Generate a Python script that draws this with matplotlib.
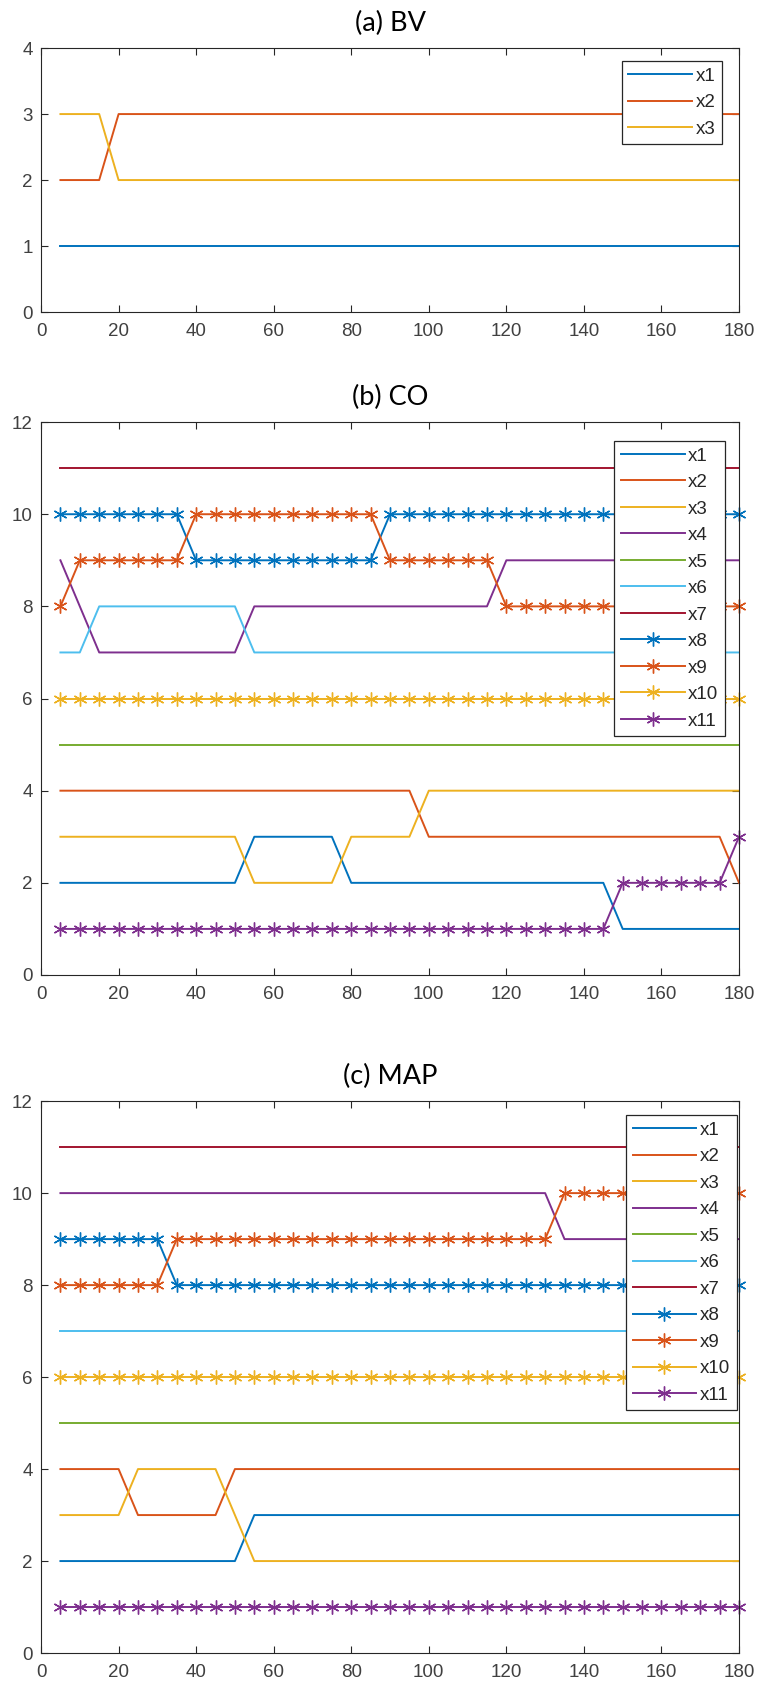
"""
Recreates the three-panel ranking plot (BV / CO / MAP) in MATLAB style.
Output: out.png (760 x 1693 px)
"""

import matplotlib
matplotlib.use("Agg")
import matplotlib.pyplot as plt

# ── Data ────────────────────────────────────────────────────────────────────

X = [5, 10, 15, 20, 25, 30, 35, 40, 45, 50, 55, 60,
     65, 70, 75, 80, 85, 90, 95, 100, 105, 110, 115, 120,
     125, 130, 135, 140, 145, 150, 155, 160, 165, 170, 175, 180]

# (a) BV
BV_X1 = [1] * 36
BV_X2 = [2, 2, 2] + [3] * 33
BV_X3 = [3, 3, 3] + [2] * 33

# (b) CO
CO_X1 = [2] * 10 + [3] * 5 + [2] * 14 + [1] * 7
CO_X2 = [4] * 19 + [3] * 16 + [2]
CO_X3 = [3] * 10 + [2] * 5 + [3] * 4 + [4] * 17
CO_X4 = [9, 8] + [7] * 8 + [8] * 13 + [9] * 13
CO_X5 = [5] * 36
CO_X6 = [7, 7] + [8] * 8 + [7] * 26
CO_X7 = [11] * 36
CO_X8 = [10] * 7 + [9] * 10 + [10] * 19
CO_X9 = [8] + [9] * 6 + [10] * 10 + [9] * 6 + [8] * 13
CO_X10 = [6] * 36
CO_X11 = [1] * 29 + [2] * 6 + [3]

# (c) MAP
MAP_X1 = [2] * 10 + [3] * 26
MAP_X2 = [4] * 4 + [3] * 5 + [4] * 27
MAP_X3 = [3] * 4 + [4] * 5 + [3] + [2] * 26
MAP_X4 = [10] * 26 + [9] * 10
MAP_X5 = [5] * 36
MAP_X6 = [7] * 36
MAP_X7 = [11] * 36
MAP_X8 = [9] * 6 + [8] * 30
MAP_X9 = [8] * 6 + [9] * 20 + [10] * 10
MAP_X10 = [6] * 36
MAP_X11 = [1] * 36

BV_SERIES = [BV_X1, BV_X2, BV_X3]
CO_SERIES = [CO_X1, CO_X2, CO_X3, CO_X4, CO_X5, CO_X6, CO_X7,
             CO_X8, CO_X9, CO_X10, CO_X11]
MAP_SERIES = [MAP_X1, MAP_X2, MAP_X3, MAP_X4, MAP_X5, MAP_X6, MAP_X7,
              MAP_X8, MAP_X9, MAP_X10, MAP_X11]

TITLES = ["(a) BV", "(b) CO", "(c) MAP"]
X_TICKS = [0, 20, 40, 60, 80, 100, 120, 140, 160, 180]

# ── Styling ─────────────────────────────────────────────────────────────────

MATLAB_COLORS = ["#0072BD", "#D95319", "#EDB120", "#7E2F8E",
                 "#77AC30", "#4DBEEE", "#A2142F"]
AXIS_COLOR = "#262626"
ASTERISK = (6, 2, 0)

plt.rcParams.update({
    "font.family": ["Liberation Sans", "DejaVu Sans"],
    "font.size": 13,
    "axes.linewidth": 0.8,
    "axes.edgecolor": AXIS_COLOR,
    "xtick.color": AXIS_COLOR,
    "ytick.color": AXIS_COLOR,
    "xtick.labelcolor": "#404040",
    "ytick.labelcolor": "#404040",
})


def draw_panel(ax, series, title, ylim, yticks, legend_anchor):
    for i, ys in enumerate(series):
        color = MATLAB_COLORS[i % 7]
        marker = ASTERISK if i >= 7 else None
        ax.plot(X, ys, color=color, linewidth=1.4, marker=marker,
                markersize=10, markeredgewidth=1.0, clip_on=False,
                label=f"x{i + 1}", zorder=2 + i * 0.01)

    ax.set_xlim(0, 180)
    ax.set_ylim(*ylim)
    ax.set_xticks(X_TICKS)
    ax.set_yticks(yticks)
    ax.tick_params(direction="in", length=5, width=0.8, top=True, right=True,
                   labelsize=13.5)
    ax.tick_params(axis="x", pad=8)
    ax.tick_params(axis="y", pad=6)
    ax.set_title(title, family=["Lato", "DejaVu Sans"], fontsize=19.5, pad=12,
                 color="black")

    leg = ax.legend(loc="upper right", bbox_to_anchor=legend_anchor,
                    fontsize=13.5, frameon=True, fancybox=False, framealpha=1,
                    edgecolor=AXIS_COLOR, handlelength=3.4, handletextpad=0.2,
                    labelspacing=0.5, borderpad=0.35, borderaxespad=0,
                    numpoints=1)
    leg.get_frame().set_linewidth(0.9)
    leg.set_zorder(10)
    for t in leg.get_texts():
        t.set_color(AXIS_COLOR)


def main():
    fig = plt.figure(figsize=(7.6, 16.93), dpi=100)
    left, width = 0.054, 0.9184

    ax_a = fig.add_axes([left, 0.8157, width, 0.1559])
    ax_b = fig.add_axes([left, 0.4241, width, 0.3266])
    ax_c = fig.add_axes([left, 0.0236, width, 0.3260])

    draw_panel(ax_a, BV_SERIES, TITLES[0], (0, 4), [0, 1, 2, 3, 4], (0.976, 0.951))
    draw_panel(ax_b, CO_SERIES, TITLES[1], (0, 12), [0, 2, 4, 6, 8, 10, 12], (0.980, 0.966))
    draw_panel(ax_c, MAP_SERIES, TITLES[2], (0, 12), [0, 2, 4, 6, 8, 10, 12], (0.997, 0.975))

    fig.savefig("out.png", dpi=100)
    plt.close(fig)


if __name__ == "__main__":
    main()
